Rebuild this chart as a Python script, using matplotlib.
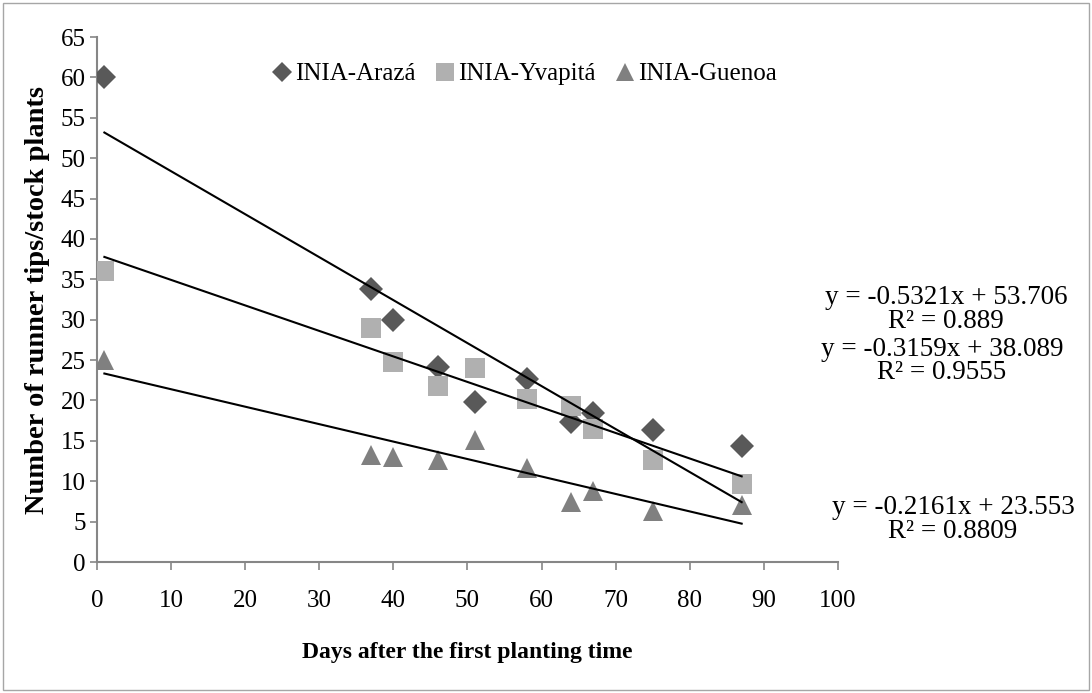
import matplotlib
matplotlib.use("Agg")
import matplotlib.pyplot as plt
import numpy as np
from matplotlib.patches import Rectangle

plt.rcParams['font.family'] = ['Liberation Serif', 'DejaVu Serif']

days = [1, 37, 40, 46, 51, 58, 64, 67, 75, 87]
araza = [60, 33.8, 30.0, 24.2, 19.8, 22.6, 17.3, 18.4, 16.3, 14.4]
yvapita = [36.0, 29.0, 24.8, 21.8, 24.0, 20.2, 19.3, 16.5, 12.6, 9.6]
guenoa = [25.0, 13.2, 13.0, 12.6, 15.1, 11.7, 7.4, 8.8, 6.3, 7.0]

series_names = ["INIA-Arazá", "INIA-Yvapitá", "INIA-Guenoa"]
slopes = [-0.5321, -0.3159, -0.2161]
intercepts = [53.706, 38.089, 23.553]
r2_labels = ["0.889", "0.9555", "0.8809"]
xticks = list(range(0, 101, 10))
yticks = list(range(0, 66, 5))

fig = plt.figure(figsize=(10.92, 6.93), dpi=100)
fig.patches.append(Rectangle((0.003, 0.004), 0.994, 0.992, transform=fig.transFigure,
                             fill=False, edgecolor='#a6a6a6', linewidth=1.0))
ax = fig.add_axes([0.0888, 0.189, 0.6786, 0.7576])

markers = ['D', 's', '^']
colors = ['#595959', '#b0b0b0', '#808080']
sizes = [12, 15, 15]
handles = []
for vals, name, m, c, s in zip([araza, yvapita, guenoa], series_names, markers, colors, sizes):
    h, = ax.plot(days, vals, linestyle='none', marker=m, color=c, markersize=s,
                 markeredgewidth=0, label=name, zorder=3)
    handles.append(h)

xfit = np.array([min(days), max(days)])
for a, b in zip(slopes, intercepts):
    ax.plot(xfit, a * xfit + b, color='black', linewidth=1.5, zorder=4)

ax.set_xlim(0, 100)
ax.set_ylim(0, 65)
ax.set_xticks(xticks)
ax.set_yticks(yticks)
ax.tick_params(axis='both', labelsize=18, colors='#868686', labelcolor='black',
               direction='out', length=6, width=1.2)
ax.tick_params(axis='x', pad=14)
ax.tick_params(axis='y', pad=3, length=5)
for sp in ['top', 'right']:
    ax.spines[sp].set_visible(False)
for sp in ['left', 'bottom']:
    ax.spines[sp].set_color('#868686')
    ax.spines[sp].set_linewidth(1.5)

ax.set_xlabel("Days after the first planting time", fontsize=17, fontweight='bold', labelpad=22)
ax.set_ylabel("Number of runner tips/stock plants", fontsize=20.5, fontweight='bold', labelpad=8)

leg = ax.legend(handles=handles, loc='center left', bbox_to_anchor=(0.235, 0.9295), ncol=3,
                frameon=False, fontsize=18, handletextpad=0.05, columnspacing=0.75,
                handlelength=0.9, borderpad=0, borderaxespad=0, markerscale=0.85)

eq_pos = [(946, 298, 322), (942, 349, 373), (953, 508, 532)]
H = 693.0
for (xc, y1, y2), a, b, r in zip(eq_pos, slopes, intercepts, r2_labels):
    fig.text(xc / 1092, 1 - y1 / H, f"y = {a:.4f}x + {b:.3f}", ha='center', va='center', fontsize=19.5)
    fig.text(xc / 1092, 1 - y2 / H, f"R² = {r}", ha='center', va='center', fontsize=19.5)

fig.savefig("out.png", dpi=100)
